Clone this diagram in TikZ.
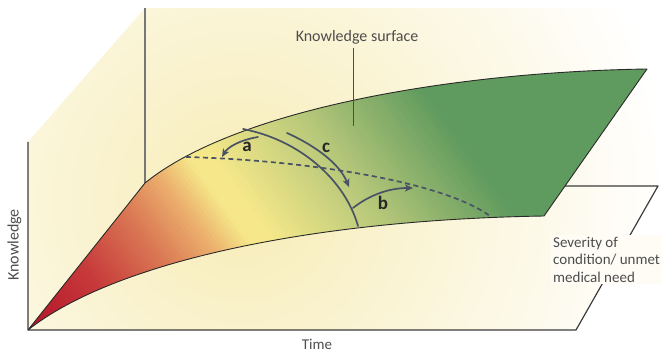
\documentclass[tikz,border=0pt]{standalone}
\usepackage{fontspec}
\setmainfont{Carlito}
\usetikzlibrary{arrows.meta}
\definecolor{bgIn}{HTML}{F7ECB6}
\definecolor{axisC}{HTML}{3C3C3C}
\definecolor{backC}{HTML}{777777}
\definecolor{surfC}{HTML}{2A2A2A}
\definecolor{arcC}{HTML}{4A5266}
\definecolor{txtC}{HTML}{4D4D4D}
\definecolor{gA}{HTML}{AE0623}
\definecolor{gB}{HTML}{C6393A}
\definecolor{gC}{HTML}{DB7A55}
\definecolor{gD}{HTML}{EBAE6C}
\definecolor{gE}{HTML}{F6E88A}
\definecolor{gF}{HTML}{B5C779}
\definecolor{gG}{HTML}{5F9A5E}
% one gradient segment: s0, s1, colour at s0, colour at s1, number of strips
\newcommand\gradseg[5]{%
  \foreach \i in {1,...,#5}{%
    \pgfmathsetmacro\ga{#1+(\i-1)*(#2-#1)/#5}%
    \pgfmathsetmacro\gb{#1+\i*(#2-#1)/#5+0.8}%
    \pgfmathtruncatemacro\gp{100*(\i-0.5)/#5}%
    \fill[#4!\gp!#3] ({0.809*\ga},{-0.588*\ga}) -- ({0.809*\ga+411.6},{-0.588*\ga+566.3})
       -- ({0.809*\gb+411.6},{-0.588*\gb+566.3}) -- ({0.809*\gb},{-0.588*\gb}) -- cycle;
  }%
}
\begin{document}
\begin{tikzpicture}[x=1pt,y=-1pt,line join=round,
  axisline/.style={draw=axisC,line width=1.2pt},
  backline/.style={draw=backC,line width=1.4pt},
  surfline/.style={draw=surfC,line width=0.9pt},
  arcline/.style={draw=arcC,line width=1.7pt,line cap=round},
  arrowline/.style={arcline,-{Stealth[length=8pt,width=7pt,inset=2pt]}},
  dashline/.style={draw=arcC,line width=1.7pt,dash pattern=on 5pt off 3.5pt},
  lbl/.style={text=txtC,inner sep=0pt,font=\fontsize{16}{19}\selectfont},
  letter/.style={text=black!85,inner sep=0pt,font=\fontsize{19}{22}\selectfont\bfseries}]
\useasboundingbox (0,0) rectangle (662,352);
% background walls and floor
\begin{scope}
  \clip (28,142) -- (145,8) -- (662,8) -- (662,186) -- (658,186) -- (576,330) -- (28,330) -- cycle;
  \shade[inner color=bgIn,outer color=white] (240,200) circle (430);
\end{scope}
\draw[axisline] (28,142) -- (28,330) -- (576,330) -- (658,186) -- (560,186);
\draw[backline] (145,8) -- (145,183);
% knowledge surface
\begin{scope}
  \clip (28,330) -- (145,183) .. controls (235,110) and (450,72) .. (647,69) -- (544,216)
        .. controls (300,220) and (110,265) .. (28,330) -- cycle;
  \gradseg{-200}{-90}{gA}{gB}{26}
  \gradseg{-90}{-20}{gB}{gC}{18}
  \gradseg{-20}{25}{gC}{gD}{11}
  \gradseg{25}{60}{gD}{gE}{9}
  \gradseg{60}{78}{gE}{gE}{1}
  \gradseg{78}{180}{gE}{gF}{26}
  \gradseg{180}{290}{gF}{gG}{28}
  \gradseg{290}{560}{gG}{gG}{1}
\end{scope}
\draw[surfline] (28,330) -- (145,183) .. controls (235,110) and (450,72) .. (647,69) -- (544,216)
        .. controls (300,220) and (110,265) .. (28,330) -- cycle;
% dashed trajectory
\coordinate (d0) at (186,157);
\coordinate (d1) at (490,216);
\draw[dashline] (d0) .. controls (300,160) and (440,180) .. (d1);
% big arc across the surface
\coordinate (r0) at (243,129);
\coordinate (r1) at (358,226);
\draw[arcline] (r0) .. controls (300,140) and (345,180) .. (r1);
% arrows a, b, c
\coordinate (a0) at (258,137);
\coordinate (a1) at (222,157);
\draw[arrowline] (a0) .. controls (240,140) and (228,147) .. (a1);
\coordinate (c0) at (287,133);
\coordinate (c1) at (349,187);
\draw[arrowline] (c0) .. controls (318,147) and (340,165) .. (c1);
\coordinate (b0) at (353,208);
\coordinate (b1) at (413,188);
\draw[arrowline] (b0) .. controls (368,196) and (388,188) .. (b1);
\node[letter] (la) at (247,147) {a};
\node[letter] (lc) at (326,148) {c};
\node[letter] (lb) at (383,203) {b};
% labels
\node[lbl] (ks) at (357,37.5) {Knowledge surface};
\coordinate (ksend) at (353,126);
\draw[draw=txtC,line width=1pt,shorten <=3pt] (ks.south -| ksend) -- (ksend);
\node[lbl,rotate=90] (kn) at (14.5,245) {Knowledge};
\node[lbl,font=\fontsize{15}{18}\selectfont] (time) at (317,344.5) {Time};
\node[lbl,align=left,anchor=north west,inner sep=2pt,fill=bgIn!14!white,
      font=\fontsize{15}{17.3}\selectfont] (sev) at (551,235) {Severity of\\condition/ unmet\\medical need};
\end{tikzpicture}
\end{document}
